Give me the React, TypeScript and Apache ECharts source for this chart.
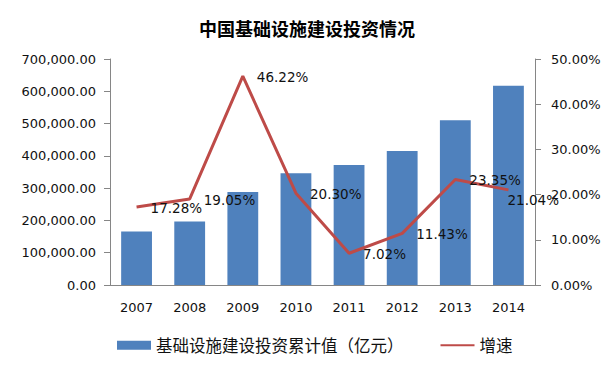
import React, { useEffect, useRef } from "react";
import * as echarts from "echarts";

const years = ["2007", "2008", "2009", "2010", "2011", "2012", "2013", "2014"];
const investment = [166000, 197000, 288000, 346000, 372000, 415000, 510000, 617000];
const growth = [17.28, 19.05, 46.22, 20.3, 7.02, 11.43, 23.35, 21.04];
const barName = "基础设施建设投资累计值（亿元）";
const lineName = "增速";
const titleText = "中国基础设施建设投资情况";

export default function App() {
  const ref = useRef<HTMLDivElement>(null);
  useEffect(() => {
    if (!ref.current) return;
    const chart = echarts.init(ref.current, null, { renderer: "svg" });
    const axisFont = { fontFamily: "DejaVu Sans", fontSize: 13, color: "#111" };
    const axisLine = { show: true, lineStyle: { color: "#868686", width: 1 } };
    chart.setOption({
      animation: false,
      backgroundColor: "#ffffff",
      title: {
        text: titleText,
        left: "center",
        top: 14,
        textStyle: { fontFamily: "Noto Sans CJK SC", fontSize: 18, fontWeight: "bold", color: "#000" },
      },
      grid: { left: 110, right: 79, top: 59, bottom: 84 },
      legend: {
        left: 112,
        top: 332,
        itemWidth: 34,
        itemHeight: 9,
        itemGap: 36,
        textStyle: { fontFamily: "Noto Sans CJK SC", fontSize: 16.5, color: "#111" },
        data: [
          { name: barName, icon: "rect" },
          { name: lineName, itemStyle: { opacity: 0 } },
        ],
      },
      xAxis: {
        type: "category",
        data: years,
        axisLine,
        axisTick: { show: false },
        axisLabel: { ...axisFont, margin: 16 },
      },
      yAxis: [
        {
          type: "value",
          min: 0,
          max: 700000,
          interval: 100000,
          axisLine,
          axisTick: { show: true, length: 6, lineStyle: { color: "#868686" } },
          splitLine: { show: false },
          axisLabel: {
            ...axisFont,
            margin: 14,
            formatter: (v: number) =>
              v.toLocaleString("en-US", { minimumFractionDigits: 2, maximumFractionDigits: 2 }),
          },
        },
        {
          type: "value",
          min: 0,
          max: 50,
          interval: 10,
          position: "right",
          axisLine,
          axisTick: { show: true, length: 6, lineStyle: { color: "#868686" } },
          splitLine: { show: false },
          axisLabel: { ...axisFont, margin: 16, formatter: (v: number) => v.toFixed(2) + "%" },
        },
      ],
      series: [
        {
          name: barName,
          type: "bar",
          data: investment,
          barWidth: "58%",
          itemStyle: { color: "#4F81BD" },
        },
        {
          name: lineName,
          type: "line",
          yAxisIndex: 1,
          data: growth.map((v, i) =>
            i === growth.length - 1
              ? { value: v, label: { offset: [-15, 10] } }
              : { value: v }
          ),
          symbol: "circle",
          symbolSize: 0.1,
          showSymbol: true,
          lineStyle: { color: "#BE4B48", width: 3 },
          itemStyle: { color: "#BE4B48" },
          label: {
            show: true,
            position: "right",
            distance: 14,
            offset: [0, 1],
            fontFamily: "DejaVu Sans",
            fontSize: 13.5,
            color: "#111",
            formatter: (p: any) => Number(p.value).toFixed(2) + "%",
          },
          z: 5,
        },
      ],
    });
    return () => chart.dispose();
  }, []);
  return (
    <div
      ref={ref}
      style={{ position: "fixed", left: 0, top: 0, width: 614, height: 369 }}
    />
  );
}
